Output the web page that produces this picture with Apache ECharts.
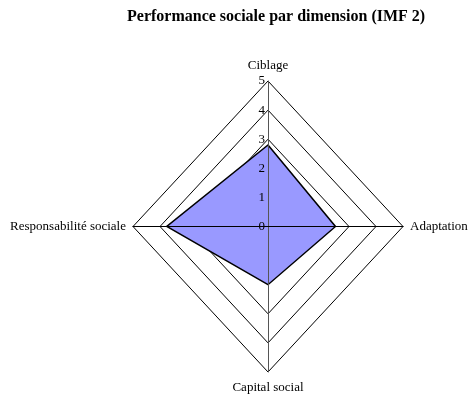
<!DOCTYPE html>
<html>
<head>
<meta charset="utf-8">
<script src="https://cdn.jsdelivr.net/npm/echarts@6/dist/echarts.min.js"></script>
<style>html,body{margin:0;padding:0;background:#fff}#c{width:469px;height:398px}</style>
</head>
<body>
<div id="c"></div>
<script>
const titleText = 'Performance sociale par dimension (IMF 2)';
const indicators = ['Ciblage', 'Adaptation', 'Capital social', 'Responsabilité sociale'];
const scores = [2.8, 2.5, 2.0, 3.75];
const ringLevels = [3, 4, 5];
const tickValues = [0, 1, 2, 3, 4, 5];
const axisMax = 5;

const dirs = [[0, 1], [1, 0], [0, -1], [-1, 0]];
const FONT = 'Liberation Serif';

const chart = echarts.init(document.getElementById('c'));
chart.setOption({
  animation: false,
  title: {
    text: titleText, left: 122, top: 4,
    textStyle: { fontFamily: FONT, fontSize: 16, fontWeight: 'bold', color: '#000' }
  },
  grid: { left: 133, top: 81, width: 270, height: 291 },
  xAxis: {
    type: 'value', min: -axisMax, max: axisMax, interval: 1, z: 10,
    axisLine: { show: true, onZero: true, lineStyle: { color: '#000', width: 1 } },
    axisTick: { show: false }, axisLabel: { show: false }, splitLine: { show: false }
  },
  yAxis: {
    type: 'value', min: -axisMax, max: axisMax, interval: 1, z: 10,
    offset: -135,
    axisLine: { show: true, onZero: false, lineStyle: { color: '#555', width: 1 } },
    axisTick: { show: false }, splitLine: { show: false },
    axisLabel: {
      margin: 3, fontFamily: FONT, fontSize: 13, color: '#000',
      formatter: v => (tickValues.indexOf(v) >= 0 ? String(v) : '')
    }
  },
  series: [
    {
      type: 'custom', coordinateSystem: 'cartesian2d', z: 1,
      data: ringLevels.map(l => [l, 0]),
      renderItem: (params, api) => {
        const l = api.value(0);
        return {
          type: 'polygon',
          shape: { points: dirs.map(d => api.coord([d[0] * l, d[1] * l])) },
          style: { fill: 'none', stroke: '#000', lineWidth: 1 }
        };
      }
    },
    {
      type: 'custom', coordinateSystem: 'cartesian2d', z: 2,
      data: [[0, 0]],
      renderItem: (params, api) => ({
        type: 'polygon',
        shape: { points: dirs.map((d, i) => api.coord([d[0] * scores[i], d[1] * scores[i]])) },
        style: { fill: '#9999ff', stroke: '#000', lineWidth: 1.5, lineJoin: 'miter' }
      })
    },
    {
      type: 'custom', coordinateSystem: 'cartesian2d', z: 3,
      data: indicators.map((n, i) => [dirs[i][0] * axisMax, dirs[i][1] * axisMax]),
      renderItem: (params, api) => {
        const i = params.dataIndex;
        const p = api.coord([api.value(0), api.value(1)]);
        const d = dirs[i];
        const gap = d[1] !== 0 ? 9 : 7;
        return {
          type: 'text',
          x: p[0] + d[0] * gap, y: p[1] - d[1] * gap,
          style: {
            text: indicators[i], fontFamily: FONT, fontSize: 13, fill: '#000',
            align: d[0] > 0 ? 'left' : (d[0] < 0 ? 'right' : 'center'),
            verticalAlign: d[1] > 0 ? 'bottom' : (d[1] < 0 ? 'top' : 'middle')
          }
        };
      }
    }
  ]
});
</script>
</body>
</html>
